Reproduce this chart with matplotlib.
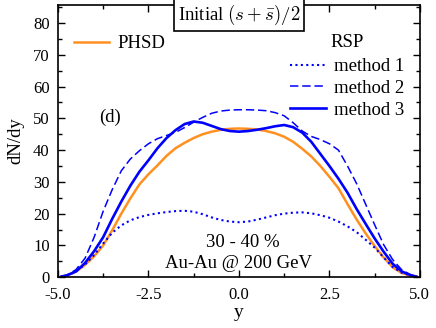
import matplotlib
matplotlib.use("Agg")
import matplotlib.pyplot as plt
from matplotlib.ticker import MultipleLocator, FormatStrFormatter
from matplotlib.lines import Line2D

plt.rcParams['font.family'] = ['Liberation Serif', 'DejaVu Serif']
plt.rcParams['mathtext.fontset'] = 'cm'
plt.rcParams['axes.unicode_minus'] = False

# rapidity points
rap = [-4.9, -4.75, -4.5, -4.25, -4.0, -3.75, -3.5, -3.25, -3.0, -2.75,
       -2.5, -2.25, -2.0, -1.75, -1.5, -1.25, -1.0, -0.75, -0.5, -0.25,
       0.0, 0.25, 0.5, 0.75, 1.0, 1.25, 1.5, 1.75, 2.0, 2.25,
       2.5, 2.75, 3.0, 3.25, 3.5, 3.75, 4.0, 4.25, 4.5, 4.75, 4.9]

phsd = [0.2, 0.5, 1.8, 3.9, 6.6, 10.0, 14.8, 20.0, 24.8, 29.2,
        32.4, 35.2, 38.2, 40.6, 42.3, 43.8, 45.0, 45.8, 46.4, 46.7,
        46.8, 46.7, 46.5, 46.0, 45.3, 44.2, 42.6, 40.4, 38.0, 35.0,
        31.6, 28.0, 23.0, 18.2, 13.8, 9.8, 6.2, 3.1, 1.3, 0.5, 0.2]

method1 = [0.2, 0.5, 1.8, 4.0, 7.0, 10.6, 14.0, 16.3, 17.9, 18.9,
           19.6, 20.1, 20.5, 20.8, 20.9, 20.6, 19.8, 18.8, 18.0, 17.5,
           17.3, 17.5, 18.1, 18.8, 19.5, 20.0, 20.3, 20.4, 20.1, 19.5,
           18.7, 17.5, 16.0, 14.2, 11.8, 9.3, 6.2, 3.2, 1.4, 0.5, 0.2]

method2 = [0.2, 0.6, 2.4, 6.0, 12.6, 20.8, 27.6, 33.5, 37.2, 39.8,
           42.0, 43.6, 44.6, 45.6, 47.1, 48.8, 50.3, 51.6, 52.3, 52.6,
           52.7, 52.7, 52.6, 52.4, 51.8, 50.8, 48.6, 46.0, 44.3, 43.3,
           42.0, 40.0, 35.0, 29.5, 23.0, 16.5, 10.2, 5.5, 2.3, 0.7, 0.2]

method3 = [0.2, 0.6, 1.8, 4.5, 8.2, 12.6, 18.4, 23.8, 28.8, 33.2,
           36.8, 40.6, 43.8, 46.3, 48.2, 49.0, 48.6, 47.6, 46.6, 46.0,
           45.8, 46.0, 46.4, 46.9, 47.5, 47.9, 47.2, 45.5, 42.6, 38.8,
           35.0, 31.0, 26.6, 21.5, 16.8, 12.2, 8.0, 4.2, 1.8, 0.6, 0.2]

orange = '#ff9020'
blue = '#0000ff'

fig = plt.figure(figsize=(4.36, 3.28), dpi=100)
ax = fig.add_axes([0.133, 0.155, 0.830, 0.830])

ax.plot(rap, phsd, color=orange, lw=1.8)
ax.plot(rap, method1, color=blue, lw=1.5, ls=(0, (1, 1.6)))
ax.plot(rap, method2, color=blue, lw=1.1, ls=(0, (5.5, 2.5)))
ax.plot(rap, method3, color=blue, lw=1.9)

ax.set_xlim(-5, 5)
ax.set_ylim(0, 85.7)
ax.xaxis.set_major_locator(MultipleLocator(2.5))
ax.xaxis.set_minor_locator(MultipleLocator(1.25))
ax.xaxis.set_major_formatter(FormatStrFormatter('%.1f'))
ax.yaxis.set_major_locator(MultipleLocator(10))
ax.yaxis.set_minor_locator(MultipleLocator(5))
ax.tick_params(which='both', direction='in', top=True, right=True,
               labelsize=12, width=1)
ax.tick_params(axis='x', which='major', pad=7)
ax.tick_params(axis='y', which='major', pad=6)
ax.tick_params(which='major', length=5)
ax.tick_params(which='minor', length=3)
for s in ax.spines.values():
    s.set_linewidth(1.2)

ax.set_xlabel('y', fontsize=14, labelpad=1)
ax.set_ylabel('dN/dy', fontsize=13.5, labelpad=6)

leg1 = ax.legend([Line2D([], [], color=orange, lw=1.8)], ['PHSD'],
                 loc='upper left', bbox_to_anchor=(0.012, 0.93),
                 frameon=False, fontsize=13.5, handlelength=1.9,
                 handletextpad=0.45, borderaxespad=0.2)
ax.add_artist(leg1)
handles = [Line2D([], [], color=blue, lw=1.5, ls=(0, (1, 1.6))),
           Line2D([], [], color=blue, lw=1.1, ls=(0, (5.5, 2.5))),
           Line2D([], [], color=blue, lw=1.9)]
ax.legend(handles, ['method 1', 'method 2', 'method 3'],
          loc='upper left', bbox_to_anchor=(0.61, 0.846),
          frameon=False, fontsize=13.5, handlelength=1.9,
          handletextpad=0.45, labelspacing=0.25, borderaxespad=0.2)
ax.text(0.752, 0.845, 'RSP', transform=ax.transAxes, fontsize=13.5)

ax.text(0.5, 0.962, r'Initial $(s+\bar{s})/2$', transform=ax.transAxes,
        ha='center', va='center', fontsize=13.5,
        bbox=dict(boxstyle='square,pad=0.2', fc='white', ec='black', lw=1.2))
ax.text(0.115, 0.57, '(d)', transform=ax.transAxes, fontsize=13.5)
ax.text(0.51, 0.11, '30 - 40 %', transform=ax.transAxes, ha='center',
        fontsize=13.5)
ax.text(0.5, 0.033, 'Au-Au @ 200 GeV', transform=ax.transAxes, ha='center',
        fontsize=13.5)

fig.savefig('out.png', dpi=100)
